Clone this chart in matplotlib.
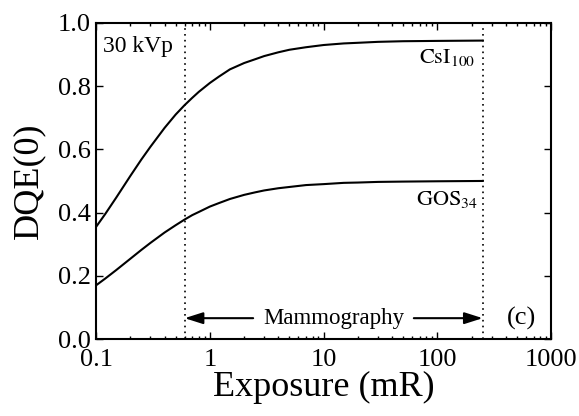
"""DQE(0) vs exposure at 30 kVp for CsI and GOS detectors, panel (c)."""

import matplotlib
matplotlib.use("Agg")
import matplotlib.pyplot as plt
import numpy as np

# ── Data ───────────────────────────────────────────────────────────────────
exposure_mr = [0.1, 0.12, 0.15, 0.2, 0.25, 0.3, 0.4, 0.5, 0.6, 0.7, 0.8, 1,
               1.2, 1.5, 2, 2.5, 3, 4, 5, 7, 10, 15, 20, 30, 50, 100, 250]
dqe_csi = [0.355, 0.395, 0.447, 0.516, 0.568, 0.608, 0.668, 0.710, 0.740,
           0.763, 0.782, 0.810, 0.830, 0.853, 0.873, 0.885, 0.895, 0.907,
           0.915, 0.923, 0.930, 0.935, 0.937, 0.940, 0.942, 0.943, 0.944]
dqe_gos = [0.170, 0.191, 0.218, 0.254, 0.282, 0.304, 0.337, 0.360, 0.378,
           0.392, 0.402, 0.419, 0.430, 0.443, 0.456, 0.464, 0.470, 0.477,
           0.481, 0.487, 0.490, 0.494, 0.495, 0.497, 0.498, 0.499, 0.500]

mammo_range = [0.6, 250]
x_ticks = [0.1, 1, 10, 100, 1000]
x_ticklabels = ["0.1", "1", "10", "100", "1000"]
y_ticks = [0.0, 0.2, 0.4, 0.6, 0.8, 1.0]

# ── Style ──────────────────────────────────────────────────────────────────
plt.rcParams.update({
    "font.family": "serif",
    "font.serif": ["Liberation Serif", "DejaVu Serif"],
    "mathtext.fontset": "stix",
    "axes.linewidth": 1.5,
})

fig = plt.figure(figsize=(5.79, 4.16), dpi=100)
ax = fig.add_axes([0.166, 0.185, 0.786, 0.760])

ax.plot(exposure_mr, dqe_csi, color="black", lw=1.5)
ax.plot(exposure_mr, dqe_gos, color="black", lw=1.5)

for xv in mammo_range:
    ax.axvline(xv, color="black", lw=1.2, ls=(0, (1, 2.5)))

ax.set_xscale("log")
ax.set_xlim(0.1, 1000)
ax.set_ylim(0.0, 1.0)
ax.set_xticks(x_ticks)
ax.set_xticklabels(x_ticklabels)
ax.set_yticks(y_ticks)
ax.set_yticklabels([f"{v:.1f}" for v in y_ticks])

ax.tick_params(which="both", direction="in", top=True, right=True,
               labelsize=19, width=1.0)
ax.tick_params(which="major", length=5)
ax.tick_params(which="minor", length=2.5)
ax.tick_params(axis="x", which="major", pad=7)
ax.tick_params(axis="y", which="major", pad=4)

ax.set_xlabel("Exposure (mR)", fontsize=26, labelpad=0)
ax.set_ylabel("DQE(0)", fontsize=26)
ax.yaxis.set_label_coords(-0.112, 0.5)

# annotations
ax.text(0.115, 0.924, "30 kVp", fontsize=17, ha="left", va="center")
ax.text(215, 0.89, r"$\mathrm{CsI}_{100}$", fontsize=16, ha="right", va="center")
ax.text(225, 0.44, r"$\mathrm{GOS}_{34}$", fontsize=16, ha="right", va="center")
ax.text(545, 0.066, "(c)", fontsize=19, ha="center", va="center")

# Mammography range arrow with text in the gap
ax.text(12.2, 0.066, "Mammography", fontsize=16.5, ha="center", va="center")
arrow = dict(arrowstyle="-|>,head_length=1.1,head_width=0.35", color="black",
             lw=1.5, shrinkA=0, shrinkB=0)
ax.annotate("", xy=(mammo_range[0], 0.066), xytext=(2.4, 0.066), arrowprops=arrow)
ax.annotate("", xy=(mammo_range[1], 0.066), xytext=(62, 0.066), arrowprops=arrow)

fig.savefig("out.png", dpi=100)
